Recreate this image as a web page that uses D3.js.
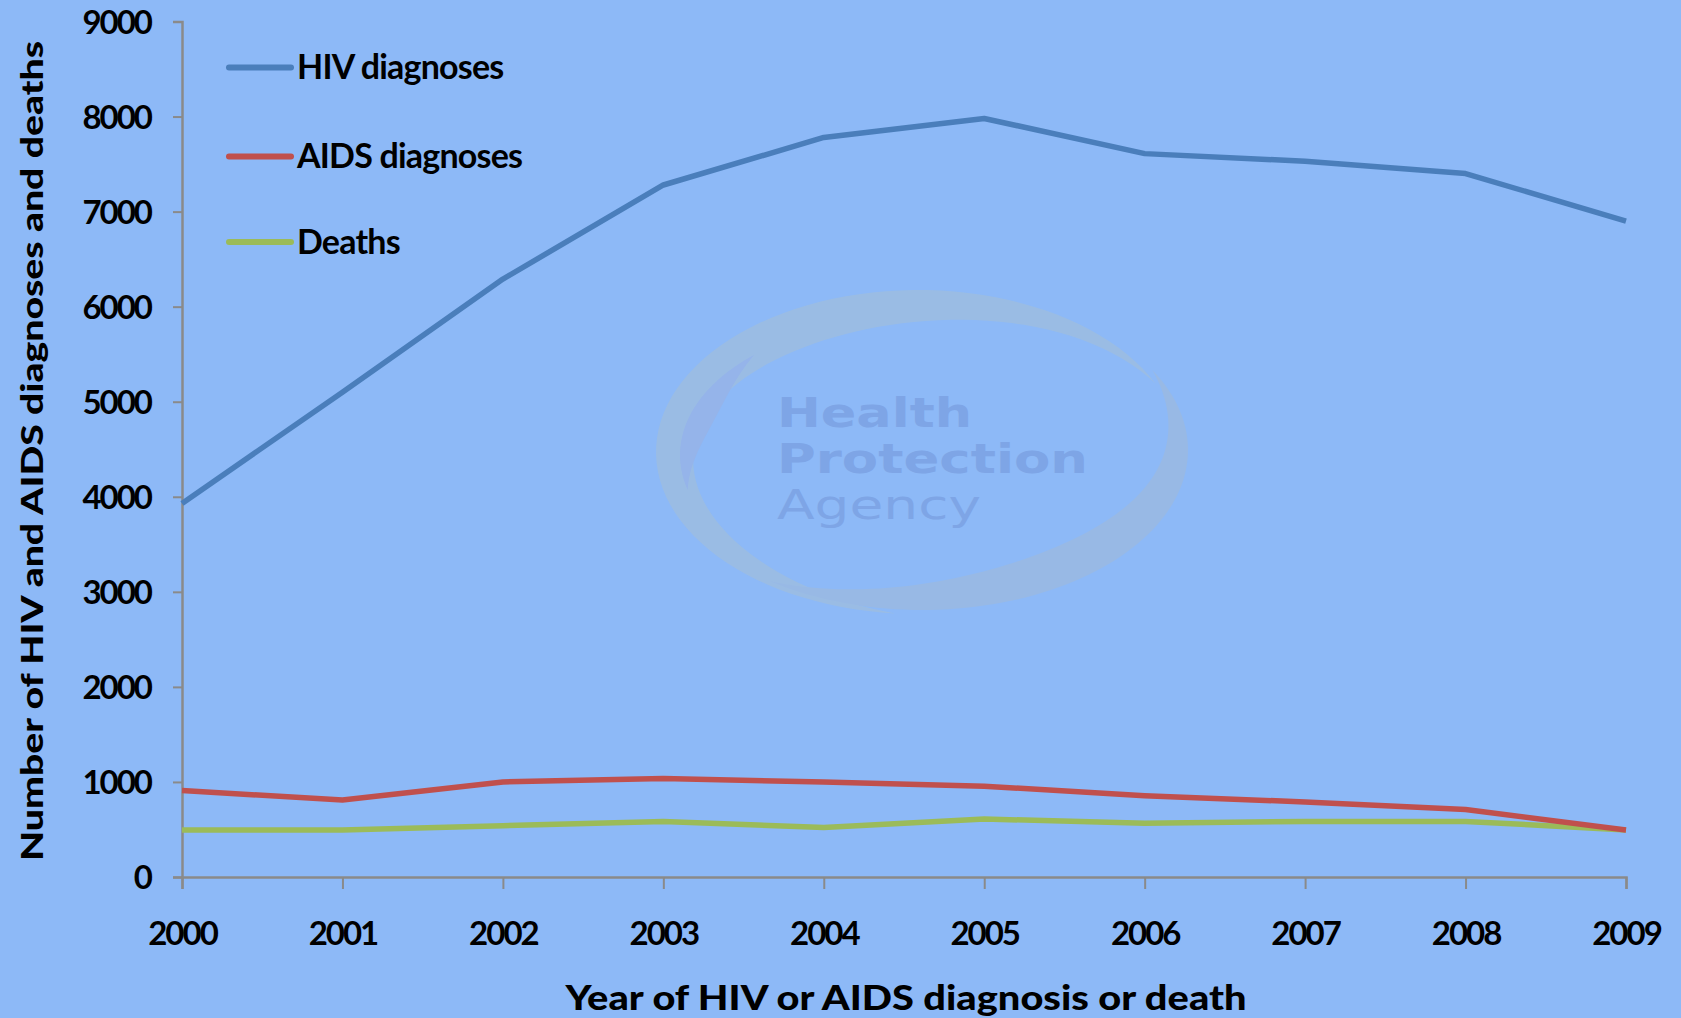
<!DOCTYPE html>
<html><head><meta charset="utf-8">
<script src="https://cdn.jsdelivr.net/npm/d3@7"></script>
<style>
html,body{margin:0;padding:0;background:#8db9f7;}
svg{display:block;}
</style></head>
<body>
<svg id="chart" width="1681" height="1018"></svg>
<script>
const years = [2000,2001,2002,2003,2004,2005,2006,2007,2008,2009];
const hivDiagnoses  = [3930,5100,6290,7280,7780,7980,7610,7530,7400,6900];
const aidsDiagnoses = [910,810,1000,1035,1000,955,855,790,710,495];
const deaths        = [495,495,540,585,520,610,565,585,585,495];
const yTicks = [0,1000,2000,3000,4000,5000,6000,7000,8000,9000];
const seriesNames = ["HIV diagnoses","AIDS diagnoses","Deaths"];
const seriesColors = ["#4a7ebb","#c0504d","#9bbb59"];
const seriesData = [hivDiagnoses, aidsDiagnoses, deaths];

const svg = d3.select("#chart");
svg.append("rect").attr("width",1681).attr("height",1018).attr("fill","#8db9f7");

const x = d3.scalePoint().domain(years).range([182,1626]);
const y = d3.scaleLinear().domain([0,9000]).range([877,21.5]);

// watermark
const wm = svg.append("g").attr("opacity",0.55);
function swoosh(cx,cy,rx,ry,a0,a1,wmax,color){
  const n=80, outer=[], inner=[];
  for(let i=0;i<=n;i++){
    const t=i/n, a=(a0+(a1-a0)*t)*Math.PI/180;
    const w=wmax*Math.sin(Math.PI*t);
    outer.push([cx+rx*Math.cos(a), cy+ry*Math.sin(a)]);
    inner.push([cx+(rx-w)*Math.cos(a), cy+(ry-w)*Math.sin(a)]);
  }
  const pts=outer.concat(inner.reverse());
  wm.append("path").attr("d",d3.line()(pts)+"Z").attr("fill",color);
}
swoosh(918,452,262,162,95,335,42,"#a6c0d6");
swoosh(922,450,266,160,-30,125,40,"#a2bad8");
swoosh(905,455,225,135,228,165,24,"#9cb0e0");
const wt = svg.append("g").attr("fill","#7ea5e6").attr("font-family","'DejaVu Sans', sans-serif").attr("font-weight","bold").attr("font-size",40);
wt.append("text").attr("x",777).attr("y",427).attr("textLength",195).attr("lengthAdjust","spacingAndGlyphs").text("Health");
wt.append("text").attr("x",777).attr("y",473).attr("textLength",311).attr("lengthAdjust","spacingAndGlyphs").text("Protection");
wt.append("text").attr("x",777).attr("y",519).attr("font-weight","normal").attr("textLength",204).attr("lengthAdjust","spacingAndGlyphs").text("Agency");

// axes
const axisColor = "#8a8a8a";
const yAxis = svg.append("g").attr("transform","translate(182,0)")
  .call(d3.axisLeft(y).tickValues(yTicks).tickSize(9).tickPadding(22).tickFormat(d3.format("d")));
const xAxis = svg.append("g").attr("transform","translate(0,877)")
  .call(d3.axisBottom(x).tickSize(12).tickPadding(30).tickFormat(d=>String(d)));
[yAxis,xAxis].forEach(g=>{
  g.select(".domain").attr("stroke",axisColor).attr("stroke-width",2.5);
  g.selectAll(".tick line").attr("stroke",axisColor).attr("stroke-width",2);
  g.selectAll(".tick text").attr("fill","#000").attr("font-family","Lato, sans-serif")
   .attr("font-weight","bold").attr("font-size",33).attr("letter-spacing",-2);
});
yAxis.selectAll(".tick text").attr("dy","0.35em");
xAxis.selectAll(".tick text").attr("dy","0.8em");

// lines
const line = d3.line().x((d,i)=>x(years[i])).y(d=>y(d));
[2,1,0].forEach(k=>{
  svg.append("path").datum(seriesData[k]).attr("d",line)
    .attr("fill","none").attr("stroke",seriesColors[k]).attr("stroke-width",5.5)
    .attr("stroke-linejoin","round");
});

// legend
const legY = [67.5,156.5,242];
seriesNames.forEach((name,i)=>{
  svg.append("line").attr("x1",229).attr("x2",291).attr("y1",legY[i]).attr("y2",legY[i])
    .attr("stroke",seriesColors[i]).attr("stroke-width",6).attr("stroke-linecap","round");
  svg.append("text").attr("x",297).attr("y",legY[i]).attr("dy","0.35em")
    .attr("font-family","Lato, sans-serif").attr("font-weight","bold").attr("font-size",34)
    .attr("letter-spacing",-0.8).attr("fill","#000").text(name);
});

// axis titles
svg.append("text").attr("transform","translate(32,451) rotate(-90)")
  .attr("text-anchor","middle").attr("dy","0.35em")
  .attr("font-family","Lato, sans-serif").attr("font-weight","900").attr("font-size",30)
  .attr("fill","#000").attr("textLength",820).attr("lengthAdjust","spacingAndGlyphs")
  .text("Number of HIV and AIDS diagnoses and deaths");
svg.append("text").attr("x",906).attr("y",1010).attr("text-anchor","middle")
  .attr("font-family","Lato, sans-serif").attr("font-weight","900").attr("font-size",34)
  .attr("fill","#000").attr("textLength",681).attr("lengthAdjust","spacingAndGlyphs")
  .text("Year of HIV or AIDS diagnosis or death");
</script>
</body></html>
